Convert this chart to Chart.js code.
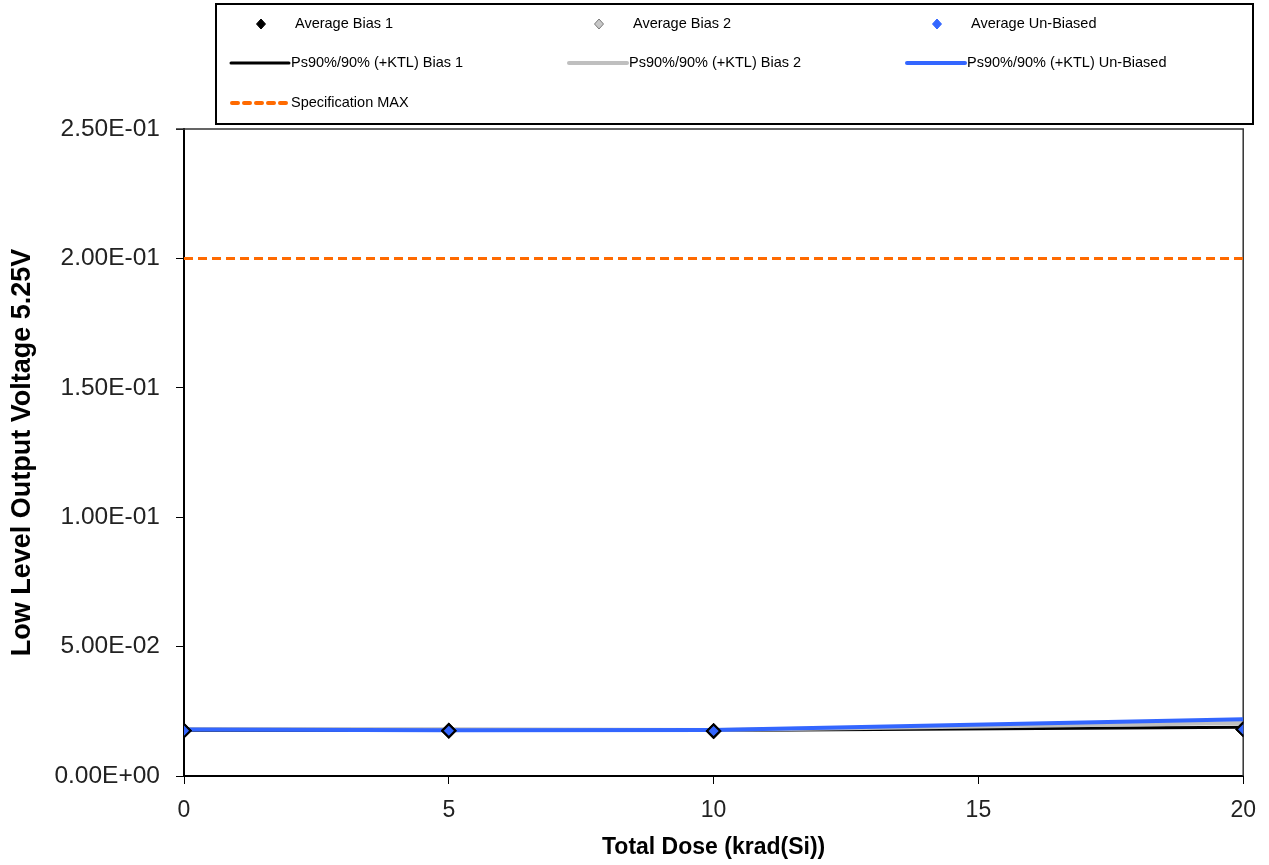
<!DOCTYPE html>
<html>
<head>
<meta charset="utf-8">
<script src="https://cdn.jsdelivr.net/npm/chart.js@4.4.1/dist/chart.umd.min.js"></script>
<style>
html,body{margin:0;padding:0;background:#fff;}
#wrap{position:relative;width:1269px;height:865px;}
</style>
</head>
<body>
<div id="wrap"><canvas id="c" width="1269" height="865"></canvas></div>
<script>
// ---- data ----
const dose = [0, 5, 10, 20];
const avgBias1 = [0.0175, 0.0174, 0.0173, 0.0180];
const avgBias2 = [0.0176, 0.0176, 0.0174, 0.0182];
const avgUnbiased = [0.0175, 0.0175, 0.0174, 0.0180];
const psBias1 = [0.0177, 0.0176, 0.0176, 0.0188];
const psBias2 = [0.0182, 0.0181, 0.0178, 0.0205];
const psUnbiased = [0.0180, 0.0177, 0.0178, 0.0219];
const specDose = [0, 20];
const specMax = [0.2, 0.2];
const yTicks = [0, 0.05, 0.10, 0.15, 0.20, 0.25];
const xTicks = [0, 5, 10, 15, 20];

const pts = (xs, ys) => xs.map((x, i) => ({x: x, y: ys[i]}));

function fmtE(v) {
  let s = Number(v).toExponential(2).toUpperCase();
  const m = s.match(/^(.*)E([+-])(\d+)$/);
  if (m) { s = m[1] + 'E' + m[2] + (m[3].length < 2 ? '0' + m[3] : m[3]); }
  return s;
}

const FONT = "'Liberation Sans', Arial, sans-serif";

const datasets = [
  {label:'Average Bias 1', data:pts(dose, avgBias1), showLine:false, pointStyle:'rectRot', pointRadius:6.5,
   pointBackgroundColor:'#000', pointBorderColor:'#000', pointBorderWidth:2, backgroundColor:'#000', borderColor:'#000', order:3, legendKind:'marker'},
  {label:'Average Bias 2', data:pts(dose, avgBias2), showLine:false, pointStyle:'rectRot', pointRadius:6.5,
   pointBackgroundColor:'#c8c8c8', pointBorderColor:'#000', pointBorderWidth:2, backgroundColor:'#c8c8c8', borderColor:'#7a7a7a', order:2, legendKind:'marker'},
  {label:'Average Un-Biased', data:pts(dose, avgUnbiased), showLine:false, pointStyle:'rectRot', pointRadius:6.5,
   pointBackgroundColor:'#3366ff', pointBorderColor:'#000', pointBorderWidth:2, backgroundColor:'#3366ff', borderColor:'#3366ff', order:1, legendKind:'marker'},
  {label:'Ps90%/90% (+KTL) Bias 1', data:pts(dose, psBias1), showLine:true, pointRadius:0, borderColor:'#000', borderWidth:3, order:6, legendKind:'line'},
  {label:'Ps90%/90% (+KTL) Bias 2', data:pts(dose, psBias2), showLine:true, pointRadius:0, borderColor:'#bfbfbf', borderWidth:4, order:5, legendKind:'line'},
  {label:'Ps90%/90% (+KTL) Un-Biased', data:pts(dose, psUnbiased), showLine:true, pointRadius:0, borderColor:'#3366ff', borderWidth:4, order:4, legendKind:'line'},
  {label:'Specification MAX', data:pts(specDose, specMax), showLine:true, pointRadius:0, borderColor:'#ff6a00', borderWidth:3, borderDash:[9,5], order:7, legendKind:'dash'}
];

// custom boxed legend drawn on the canvas
const legendPlugin = {
  id: 'boxLegend',
  afterDraw(chart) {
    const ctx = chart.ctx;
    ctx.save();
    ctx.strokeStyle = '#000';
    ctx.lineWidth = 2;
    ctx.strokeRect(216, 4, 1037, 120);
    const colLine = [230, 568, 906];
    const rows = [24, 63, 103];
    ctx.font = '14.5px ' + FONT;
    ctx.fillStyle = '#000';
    ctx.textBaseline = 'middle';
    chart.data.datasets.forEach((ds, i) => {
      const col = i < 3 ? i : (i < 6 ? i - 3 : 0);
      const row = i < 3 ? 0 : (i < 6 ? 1 : 2);
      const x0 = colLine[col], y = rows[row];
      const x1 = x0 + 60;
      if (ds.legendKind === 'marker') {
        const cx = (x0 + x1) / 2 + 1;
        ctx.beginPath();
        ctx.moveTo(cx, y - 5); ctx.lineTo(cx + 4.5, y); ctx.lineTo(cx, y + 5); ctx.lineTo(cx - 4.5, y); ctx.closePath();
        ctx.fillStyle = ds.pointBackgroundColor;
        ctx.fill();
        ctx.lineWidth = 1;
        ctx.strokeStyle = ds.borderColor;
        ctx.stroke();
      } else {
        ctx.beginPath();
        ctx.lineWidth = ds.borderWidth + (ds.legendKind === 'dash' ? 1 : 0);
        ctx.strokeStyle = ds.borderColor;
        if (ds.legendKind === 'dash') {
          ctx.setLineDash([6, 6]);
          ctx.lineCap = 'round';
          ctx.moveTo(x0 + 2, y);
          ctx.lineTo(x1, y);
        } else {
          ctx.lineCap = 'round';
          ctx.moveTo(x0 + 1, y);
          ctx.lineTo(x1 - 1, y);
        }
        ctx.stroke();
        ctx.setLineDash([]);
      }
      ctx.fillStyle = '#000';
      ctx.fillText(ds.label, ds.legendKind === 'marker' ? x1 + 5 : x1 + 1, y);
    });
    ctx.restore();
  }
};

// plot frame
const framePlugin = {
  id: 'frame',
  beforeDatasetsDraw(chart) {
    const a = chart.chartArea, ctx = chart.ctx;
    ctx.save();
    ctx.strokeStyle = '#333';
    ctx.lineWidth = 1.5;
    ctx.beginPath();
    ctx.moveTo(a.left - 8, a.top); ctx.lineTo(a.right, a.top); ctx.lineTo(a.right, a.bottom);
    ctx.stroke();
    ctx.restore();
  }
};

new Chart(document.getElementById('c'), {
  type: 'scatter',
  data: { datasets: datasets },
  plugins: [legendPlugin, framePlugin],
  options: {
    responsive: false,
    animation: false,
    layout: { padding: { top: 129, right: 25, left: 0, bottom: 0 } },
    plugins: { legend: { display: false }, tooltip: { enabled: false } },
    scales: {
      x: {
        type: 'linear', min: 0, max: 20,
        afterBuildTicks(s) { s.ticks = xTicks.map(v => ({value: v})); },
        afterFit(s) { s.height = 89; },
        border: { display: true, color: '#000', width: 2 },
        grid: { drawOnChartArea: false, drawTicks: true, tickLength: 8, color: '#000', lineWidth: 1 },
        ticks: { color: '#222', font: { family: FONT, size: 23 }, padding: 13, maxRotation: 0 },
        title: { display: true, text: 'Total Dose (krad(Si))', color: '#000', font: { family: FONT, size: 23, weight: 'bold' }, padding: { top: 0, bottom: 4 } }
      },
      y: {
        type: 'linear', min: 0, max: 0.25,
        afterBuildTicks(s) { s.ticks = yTicks.map(v => ({value: v})); },
        afterFit(s) { s.width = 184; },
        border: { display: true, color: '#000', width: 2 },
        grid: { drawOnChartArea: false, drawTicks: true, tickLength: 8, color: '#000', lineWidth: 1 },
        ticks: { color: '#222', font: { family: FONT, size: 24.5 }, padding: 16, callback: v => fmtE(v) },
        title: { display: true, text: 'Low Level Output Voltage 5.25V', color: '#000', font: { family: FONT, size: 27, weight: 'bold' }, padding: { top: 6, bottom: 0 } }
      }
    }
  }
});
</script>
</body>
</html>
